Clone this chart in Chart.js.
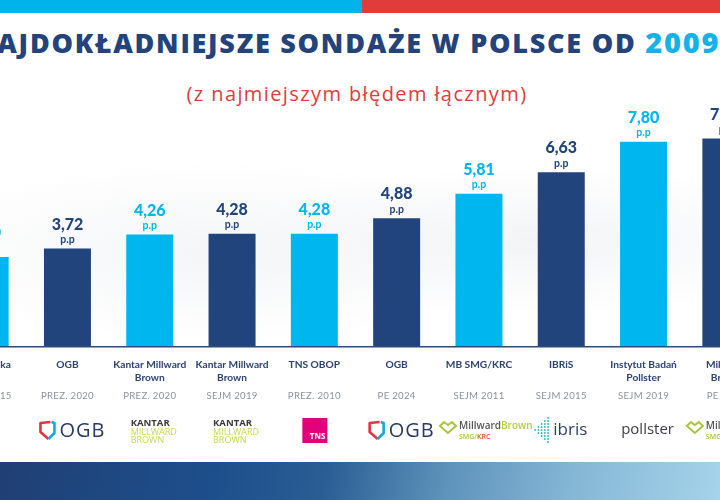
<!DOCTYPE html>
<html>
<head>
<meta charset="utf-8">
<script src="https://cdn.jsdelivr.net/npm/chart.js@4.4.0/dist/chart.umd.min.js"></script>
<style>
  html, body { margin: 0; padding: 0; }
  body { width: 720px; height: 500px; overflow: hidden; position: relative; background: #fff; font-family: Lato, "Open Sans", sans-serif; }
  .stripe { position: absolute; top: 0; height: 13px; }
  .bg { position: absolute; left: 0; top: 110px; width: 720px; height: 237px;
    background: radial-gradient(ellipse at 30% 60%, #f4f5f7 0%, rgba(255,255,255,0) 45%),
                radial-gradient(ellipse at 75% 55%, #f3f4f6 0%, rgba(255,255,255,0) 40%); }
  .panel { position: absolute; left: 0; top: 347px; width: 720px; height: 115px; background: #fff; box-shadow: 0 -2px 4px rgba(0,0,0,0.04); }
  .band { position: absolute; left: 0; top: 462px; width: 720px; height: 38px;
    background: linear-gradient(100deg, #203f74 0%, #1d4f8c 30%, #2a5d93 45%, #5e93bb 62%, #86b8d6 80%, #a5d3ea 100%); }
  .title { position: absolute; top: 22px; left: -27px; white-space: nowrap;
    font-family: "Open Sans", sans-serif; font-weight: 800; font-size: 27px; color: #23437a; letter-spacing: 1.75px; }
  .title span { color: #14b2e6; font-size: 29px; }
  .sub { position: absolute; top: 80px; left: 357px; transform: translateX(-50%); white-space: nowrap;
    font-family: "Open Sans", sans-serif; font-size: 20px; color: #e23b3d; letter-spacing: 1.4px; }
  canvas { position: absolute; left: -56px; top: 0; }
</style>
</head>
<body>
<div class="stripe" style="left:0;width:362px;background:#00b3ea"></div>
<div class="stripe" style="left:362px;width:358px;background:#e03c3c"></div>
<div class="bg"></div>
<div class="panel"></div>
<div class="band"></div>
<div class="title">NAJDOKŁADNIEJSZE SONDAŻE W POLSCE OD <span>2009</span></div>
<div class="sub">(z najmiejszym błędem łącznym)</div>
<canvas id="myChart" width="823" height="500"></canvas>
<script>
'use strict';

// pollsters, left to right
var pollsters = ['TNS Polska', 'OGB', 'Kantar Millward\nBrown', 'Kantar Millward\nBrown', 'TNS OBOP',
	'OGB', 'MB SMG/KRC', 'IBRiS', 'Instytut Badań\nPollster', 'Millward\nBrown']
var elections = ['PREZ. 2015', 'PREZ. 2020', 'PREZ. 2020', 'SEJM 2019', 'PREZ. 2010',
	'PE 2024', 'SEJM 2011', 'SEJM 2015', 'SEJM 2019', 'PE 2014']
var errors = [3.40, 3.72, 4.26, 4.28, 4.28, 4.88, 5.81, 6.63, 7.80, 7.92]
var logos = ['tns', 'ogb', 'kantar', 'kantar', 'tns', 'ogb', 'mb', 'ibris', 'pollster', 'mb']

const CYAN = '#00b6ee', NAVY = '#22447c'
const barColor = (i) => i % 2 == 0 ? CYAN : NAVY
const fmt = (v) => v.toFixed(2).replace('.', ',')

function drawLogo(ctx, kind, x, y) {
	ctx.save()
	ctx.textBaseline = 'middle'
	if (kind == 'ogb') {
		ctx.lineWidth = 2.6
		ctx.lineJoin = 'round'
		ctx.strokeStyle = '#e2353f'
		ctx.beginPath()
		ctx.moveTo(x-17, y-8); ctx.lineTo(x-27, y-7); ctx.lineTo(x-27, y+2); ctx.lineTo(x-19, y+9)
		ctx.stroke()
		ctx.strokeStyle = '#17a6e0'
		ctx.beginPath()
		ctx.moveTo(x-19, y+9); ctx.lineTo(x-13, y+3); ctx.lineTo(x-13, y-7); ctx.lineTo(x-16, y-8)
		ctx.stroke()
		ctx.fillStyle = '#2a3b66'
		ctx.font = '500 20px "Open Sans"'
		ctx.letterSpacing = '1px'
		ctx.textAlign = 'left'
		ctx.fillText('OGB', x-8, y+1)
	} else if (kind == 'kantar') {
		ctx.textAlign = 'left'
		ctx.font = 'bold 9.5px "Open Sans"'
		ctx.fillStyle = '#3a3a3a'
		ctx.fillText('KANTAR', x-19, y-7)
		ctx.font = '9px "Open Sans"'
		ctx.fillStyle = '#c8da4f'
		ctx.fillText('MILLWARD', x-19, y+2)
		ctx.fillText('BROWN', x-19, y+10)
	} else if (kind == 'tns') {
		ctx.fillStyle = '#e2007d'
		ctx.fillRect(x-12, y-12, 25, 25)
		ctx.fillStyle = '#fff'
		ctx.font = 'bold 8px "Open Sans"'
		ctx.textAlign = 'right'
		ctx.fillText('TNS', x+11, y+7)
	} else if (kind == 'mb') {
		ctx.strokeStyle = '#a9c43a'
		ctx.lineWidth = 2
		ctx.beginPath()
		ctx.moveTo(x-39, y-4); ctx.lineTo(x-35, y-8); ctx.lineTo(x-31, y-5); ctx.lineTo(x-27, y-8)
		ctx.lineTo(x-23, y-4); ctx.lineTo(x-31, y+3); ctx.closePath()
		ctx.stroke()
		ctx.textAlign = 'left'
		ctx.font = '600 10px "Open Sans"'
		ctx.fillStyle = '#555'
		ctx.fillText('Millward', x-20, y-4)
		var w = ctx.measureText('Millward').width
		ctx.fillStyle = '#b5cc45'
		ctx.fillText('Brown', x-20+w, y-4)
		ctx.font = '600 7px "Open Sans"'
		ctx.fillStyle = '#a9c43a'
		ctx.fillText('SMG/', x-20, y+7)
		ctx.fillStyle = '#d9572e'
		ctx.fillText('KRC', x-20+ctx.measureText('SMG/').width, y+7)
	} else if (kind == 'ibris') {
		ctx.fillStyle = '#2bb3b8'
		for (var c = 0; c < 5; c++) {
			for (var r = -c; r <= c; r++) {
				ctx.beginPath()
				ctx.arc(x-26+c*3.2, y+r*3, 0.9, 0, Math.PI*2)
				ctx.fill()
			}
		}
		ctx.textAlign = 'left'
		ctx.font = '500 17px "Open Sans"'
		ctx.fillStyle = '#2c3e6b'
		ctx.fillText('ibris', x-8, y)
	} else if (kind == 'pollster') {
		ctx.textAlign = 'center'
		ctx.font = '15px "Open Sans"'
		ctx.fillStyle = '#3b3b45'
		ctx.fillText('pollster', x+4, y)
	}
	ctx.restore()
}

const labelsPlugin = {
	id: 'labels',
	afterDatasetsDraw(chart) {
		var ctx = chart.ctx
		var area = chart.chartArea
		var meta = chart.getDatasetMeta(0)
		ctx.save()
		// base line
		ctx.fillStyle = '#2b4a7d'
		ctx.fillRect(0, area.bottom, chart.width, 1.5)
		meta.data.forEach((bar, i) => {
			var x = bar.x, top = bar.y
			ctx.textAlign = 'center'
			ctx.textBaseline = 'middle'
			ctx.fillStyle = barColor(i)
			ctx.font = '900 16px Lato'
			ctx.fillText(fmt(errors[i]), x, top - 24)
			ctx.font = 'bold 10.5px Lato'
			ctx.fillText('p.p', x, top - 9)

			ctx.fillStyle = '#2b4272'
			ctx.font = 'bold 10.2px Lato'
			pollsters[i].split('\n').forEach((line, k) => ctx.fillText(line, x, 365 + k*12.5))
			ctx.fillStyle = '#8c919b'
			ctx.font = '9.6px Lato'
			ctx.letterSpacing = '0.3px'
			ctx.fillText(elections[i], x, 396)
			ctx.letterSpacing = '0px'
			drawLogo(ctx, logos[i], x, 430)
		})
		ctx.restore()
	}
}

var chart = new Chart(document.getElementById('myChart').getContext('2d'), {
	type: 'bar',
	data: {
		labels: pollsters,
		datasets: [{
			data: errors,
			backgroundColor: errors.map((v, i) => barColor(i)),
			borderWidth: 0,
			barPercentage: 0.571,
			categoryPercentage: 1
		}]
	},
	options: {
		responsive: false,
		animation: false,
		layout: {padding: {top: 84, bottom: 154, left: 0, right: 0}},
		plugins: {legend: {display: false}, tooltip: {enabled: false}},
		scales: {
			x: {display: false},
			y: {display: false, min: 0, max: 10}
		}
	},
	plugins: [labelsPlugin]
})
</script>
</body>
</html>
